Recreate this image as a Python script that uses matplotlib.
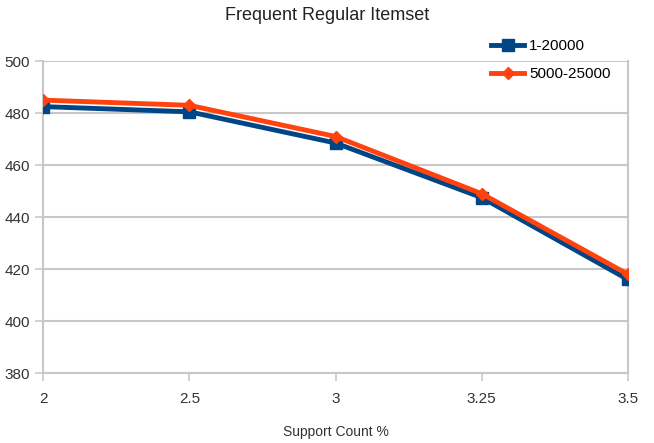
import numpy as np
import matplotlib
matplotlib.use('Agg')
import matplotlib.pyplot as plt

plt.rcParams['font.family'] = ['Liberation Sans Narrow', 'Liberation Sans', 'DejaVu Sans']

# ---- data ----
support_labels = ['2', '2.5', '3', '3.25', '3.5']
series_1 = [482.5, 480.5, 468.5, 447.5, 416.0]      # 1-20000
series_2 = [485.0, 483.0, 471.0, 449.0, 418.0]      # 5000-25000

fig = plt.figure(figsize=(6.54, 4.43), dpi=100)
ax = fig.add_axes([0.066, 0.158, 0.894, 0.704])

x = np.arange(len(support_labels))

ax.plot(x, series_1, color='#004586', lw=3.5, marker='s', ms=8, label='1-20000', zorder=3)
ax.plot(x, series_2, color='#ff420e', lw=3.5, marker='D', ms=6, label='5000-25000', zorder=4)

ax.set_xlim(0, len(support_labels) - 1)
ax.set_ylim(380, 500)
ax.set_yticks(np.arange(380, 501, 20))
ax.set_xticks(x)
ax.set_xticklabels(support_labels)

ax.grid(axis='y', color='#c8c8c8', lw=1.5)
ax.set_axisbelow(True)

ax.spines['top'].set_visible(False)
for s in ['left', 'right', 'bottom']:
    ax.spines[s].set_color('#c8c8c8')
    ax.spines[s].set_linewidth(1.5)

ax.tick_params(axis='both', colors='#c8c8c8', labelcolor='#333333', labelsize=11, length=6, width=1.2)
ax.tick_params(axis='x', pad=8)

ax.set_xlabel('Support Count %', fontsize=10, color='#333333', labelpad=13)
fig.suptitle('Frequent Regular Itemset', fontsize=13, color='#222222', y=0.985)

ax.legend(loc='upper left', bbox_to_anchor=(0.755, 1.09), frameon=False, fontsize=11,
          handlelength=2.2, labelspacing=0.9, handletextpad=0.3, borderaxespad=0)

fig.savefig('out.png', dpi=100)
